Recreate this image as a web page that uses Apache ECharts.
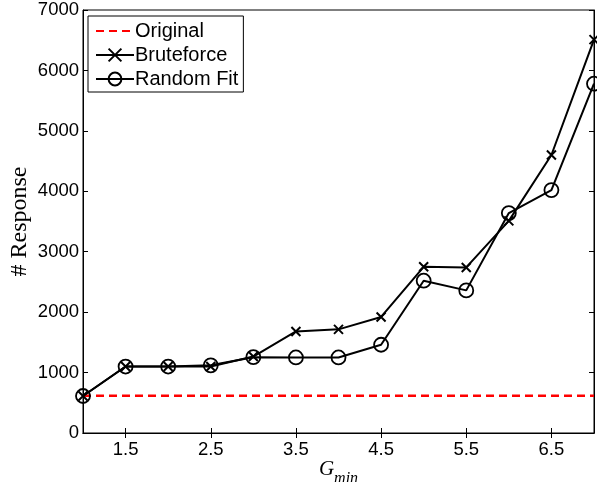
<!DOCTYPE html>
<html>
<head>
<meta charset="utf-8">
<script src="https://cdn.jsdelivr.net/npm/echarts@6/dist/echarts.min.js"></script>
<style>html,body{margin:0;padding:0;background:#fff;}#c{width:597px;height:482px;}</style>
</head>
<body>
<div id="c"></div>
<script>
const gmin = [1, 1.5, 2, 2.5, 3, 3.5, 4, 4.5, 5, 5.5, 6, 6.5, 7];
const original = [615, 615, 615, 615, 615, 615, 615, 615, 615, 615, 615, 615, 615];
const bruteforce = [612, 1100, 1100, 1100, 1265, 1680, 1715, 1920, 2750, 2740, 3510, 4600, 6510];
const randomFit = [612, 1100, 1100, 1120, 1255, 1250, 1250, 1460, 2520, 2360, 3640, 4020, 5780];
const xTicks = [1.5, 2.5, 3.5, 4.5, 5.5, 6.5];
const yTicks = [0, 1000, 2000, 3000, 4000, 5000, 6000, 7000];

const pair = (ys) => gmin.map((x, i) => [x, ys[i]]);
const crossPath = 'path://M0,0L10,10M10,0L0,10';
const font = 'Liberation Sans, Arial, sans-serif';

const chart = echarts.init(document.getElementById('c'), null, {renderer: 'canvas'});
chart.setOption({
  animation: false,
  backgroundColor: '#fff',
  grid: {left: 83, right: 3, top: 10, bottom: 49, show: true, borderColor: '#000', borderWidth: 1, backgroundColor: 'transparent', containLabel: false, outerBoundsMode: 'none'},
  legend: {
    left: 88, top: 16,
    orient: 'vertical',
    backgroundColor: '#fff',
    borderColor: '#000', borderWidth: 1,
    padding: [5, 5, 3, 7],
    itemGap: 4,
    itemWidth: 38, itemHeight: 16,
    textStyle: {fontFamily: font, fontSize: 20, color: '#000', padding: [0, 0, 0, -4]},
    data: [
      {name: 'Original', itemStyle: {color: 'transparent', borderWidth: 0, opacity: 0}},
      'Bruteforce', 'Random Fit'
    ]
  },
  xAxis: [{
    type: 'value', min: 1, max: 7, position: 'bottom',
    axisLine: {show: true, lineStyle: {color: '#000', width: 1}},
    axisTick: {show: true, inside: true, length: 5, customValues: xTicks, lineStyle: {color: '#000'}},
    axisLabel: {customValues: xTicks, fontFamily: font, fontSize: 18.5, color: '#000', margin: 7, formatter: v => v.toFixed(1)},
    splitLine: {show: false},
    name: '{g|G}{s|min}', nameLocation: 'middle', nameGap: 26, nameMoveOverlap: false,
    nameTextStyle: {rich: {
      g: {fontFamily: 'Liberation Serif, serif', fontStyle: 'italic', fontSize: 21, color: '#000'},
      s: {fontFamily: 'Liberation Serif, serif', fontStyle: 'italic', fontSize: 16, color: '#000', verticalAlign: 'bottom', padding: [0, 0, -7, 0]}
    }}
  }, {
    type: 'value', min: 1, max: 7, position: 'top',
    axisLine: {show: true, lineStyle: {color: '#000', width: 1}},
    axisTick: {show: true, inside: true, length: 5, customValues: xTicks, lineStyle: {color: '#000'}},
    axisLabel: {show: false},
    splitLine: {show: false}
  }],
  yAxis: [{
    type: 'value', min: 0, max: 7000, interval: 1000, position: 'left',
    axisLine: {show: true, lineStyle: {color: '#000', width: 1}},
    axisTick: {show: true, inside: true, length: 5, lineStyle: {color: '#000'}},
    axisLabel: {fontFamily: font, fontSize: 18.5, color: '#000', margin: 4, formatter: v => String(v)},
    splitLine: {show: false},
    name: '# Response', nameLocation: 'middle', nameGap: 51, nameRotate: 90, nameMoveOverlap: false,
    nameTextStyle: {fontFamily: 'Liberation Serif, serif', fontSize: 24, color: '#000'}
  }, {
    type: 'value', min: 0, max: 7000, interval: 1000, position: 'right',
    axisLine: {show: true, lineStyle: {color: '#000', width: 1}},
    axisTick: {show: true, inside: true, length: 5, lineStyle: {color: '#000'}},
    axisLabel: {show: false},
    splitLine: {show: false}
  }],
  series: [{
    name: 'Original', type: 'line', data: pair(original),
    symbol: 'none', showSymbol: false,
    lineStyle: {color: '#ff0000', width: 2.5, type: [8, 5]},
    itemStyle: {color: '#ff0000'},
    z: 2
  }, {
    name: 'Bruteforce', type: 'line', data: pair(bruteforce),
    symbol: crossPath, symbolSize: 9,
    lineStyle: {color: '#000', width: 2},
    itemStyle: {color: 'none', borderColor: '#000', borderWidth: 2},
    z: 3
  }, {
    name: 'Random Fit', type: 'line', data: pair(randomFit),
    symbol: 'circle', symbolSize: 14,
    lineStyle: {color: '#000', width: 2},
    itemStyle: {color: 'none', borderColor: '#000', borderWidth: 1.8},
    z: 4
  }]
});
</script>
</body>
</html>
